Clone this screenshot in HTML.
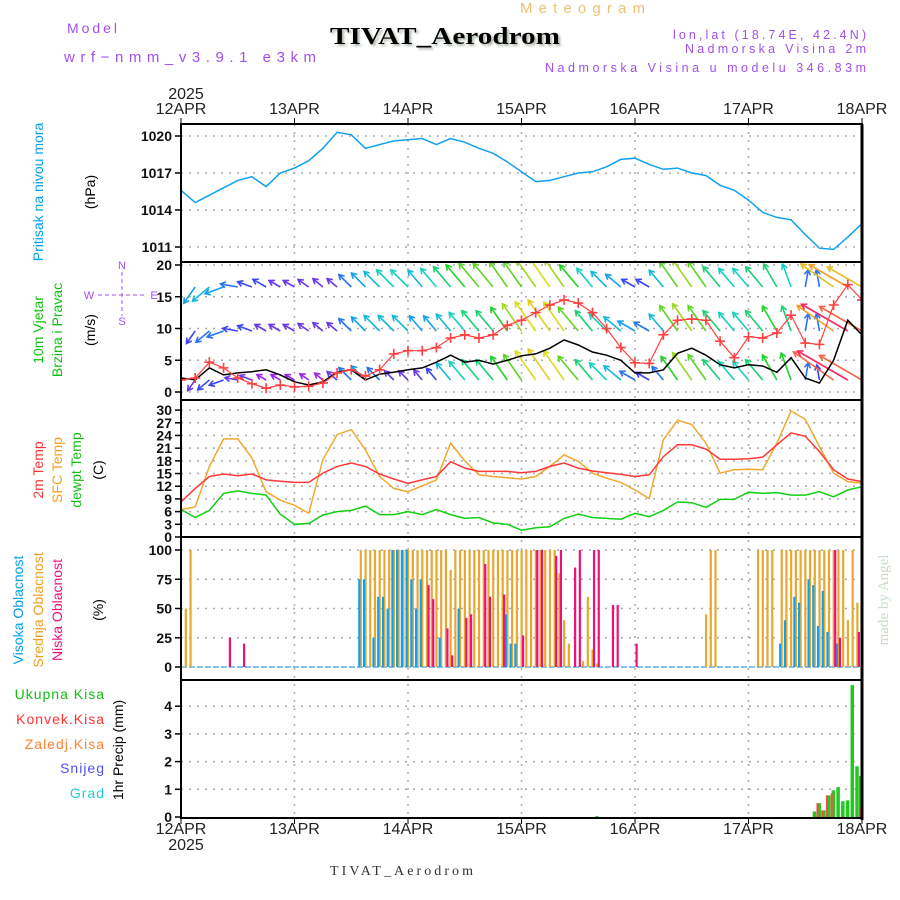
<!DOCTYPE html>
<html><head><meta charset="utf-8"><style>
body{margin:0;background:#fff;}
svg{display:block;font-family:"Liberation Sans",sans-serif;}
</style></head><body>
<svg id="chart" width="900" height="900" viewBox="0 0 900 900">
<defs>
<clipPath id="cw"><rect x="181" y="263" width="681" height="137"/></clipPath>
<filter id="sh"><feDropShadow dx="2" dy="2" stdDeviation="1" flood-color="#9a9" flood-opacity="0.8"/></filter>
</defs>
<text x="520" y="13" fill="#f0c070" font-size="15" textLength="125" lengthAdjust="spacing">Meteogram</text>
<text x="330" y="44" font-family="Liberation Serif,serif" font-weight="bold" font-size="24" textLength="230" lengthAdjust="spacingAndGlyphs" filter="url(#sh)">TIVAT_Aerodrom</text>
<text x="67" y="33" fill="#a050f0" font-size="14" textLength="50" lengthAdjust="spacing">Model</text>
<text x="64" y="62" fill="#a050f0" font-size="15" textLength="252" lengthAdjust="spacing">wrf−nmm_v3.9.1 e3km</text>
<text x="673" y="39" fill="#a050f0" font-size="12.5" textLength="193" lengthAdjust="spacing">lon,lat (18.74E, 42.4N)</text>
<text x="685" y="53" fill="#a050f0" font-size="12.5" textLength="181" lengthAdjust="spacing">Nadmorska Visina 2m</text>
<text x="545" y="72" fill="#a050f0" font-size="12.5" textLength="321" lengthAdjust="spacing">Nadmorska Visina u modelu 346.83m</text>
<text x="186" y="99" font-size="16" text-anchor="middle" fill="#222">2025</text>
<text x="186" y="850" font-size="16" text-anchor="middle" fill="#222">2025</text>
<text x="330" y="875" font-family="Liberation Serif,serif" font-size="14" textLength="143" lengthAdjust="spacing" fill="#333">TIVAT_Aerodrom</text>
<text transform="translate(888,600) rotate(-90)" font-family="Liberation Serif,serif" font-size="15" fill="#c8dcc8" text-anchor="middle">made by Angel</text>
<g font-size="14" text-anchor="middle">
<text transform="translate(43,192) rotate(-90)" fill="#00a0f0">Pritisak na nivou mora</text>
<text transform="translate(95,192) rotate(-90)">(hPa)</text>
<text transform="translate(43,330) rotate(-90)" fill="#10c010">10m Vjetar</text>
<text transform="translate(62,330) rotate(-90)" fill="#10c010">Brzina i Pravac</text>
<text transform="translate(95,330) rotate(-90)">(m/s)</text>
<text transform="translate(43,470) rotate(-90)" fill="#ff3030">2m Temp</text>
<text transform="translate(62,470) rotate(-90)" fill="#f0a020">SFC Temp</text>
<text transform="translate(81,470) rotate(-90)" fill="#10c010">dewpt Temp</text>
<text transform="translate(103,470) rotate(-90)">(C)</text>
<text transform="translate(23,610) rotate(-90)" fill="#00a0f0">Visoka Oblacnost</text>
<text transform="translate(43,610) rotate(-90)" fill="#f0a020">Srednja Oblacnost</text>
<text transform="translate(62,610) rotate(-90)" fill="#f0107a">Niska Oblacnost</text>
<text transform="translate(103,610) rotate(-90)">(%)</text>
<text transform="translate(123,750) rotate(-90)">1hr Precip (mm)</text>
</g>
<g font-size="14" text-anchor="end" letter-spacing="1">
<text x="105" y="699" fill="#10c010">Ukupna Kisa</text>
<text x="105" y="724" fill="#ff3030">Konvek.Kisa</text>
<text x="105" y="749" fill="#ff8030">Zaledj.Kisa</text>
<text x="105" y="773" fill="#5050f0">Snijeg</text>
<text x="105" y="798" fill="#20d0d0">Grad</text>
</g>
<g fill="#a050f0" stroke="#a050f0" font-size="11" text-anchor="middle">
<text x="122" y="269" stroke="none">N</text><text x="122" y="325" stroke="none">S</text>
<text x="89" y="299" stroke="none">W</text><text x="154" y="299" stroke="none">E</text>
<line x1="122" y1="272" x2="122" y2="316" stroke-dasharray="4,3"/>
<line x1="98" y1="295" x2="146" y2="295" stroke-dasharray="4,3"/>
</g>
<g id="g"></g>
</svg>
<script>
const days=['12APR','13APR','14APR','15APR','16APR','17APR','18APR'];
const pressTicks=[1020,1017,1014,1011];
const windTicks=[0,5,10,15,20];
const tempTicks=[0,3,6,9,12,15,18,21,24,27,30];
const cloudTicks=[0,25,50,75,100];
const precipTicks=[0,1,2,3,4];
// 3-hourly series (49 points, 12APR 00 .. 18APR 00)
const pressure=[1015.6,1014.6,1015.2,1015.8,1016.4,1016.7,1015.9,1017.0,1017.4,1018.0,1019.0,1020.3,1020.1,1019.0,1019.3,1019.6,1019.7,1019.8,1019.3,1019.8,1019.5,1019.0,1018.6,1017.9,1017.1,1016.3,1016.4,1016.7,1017.0,1017.1,1017.5,1018.1,1018.2,1017.7,1017.3,1017.4,1017.0,1016.8,1016.0,1015.6,1014.8,1013.8,1013.4,1013.2,1012.0,1010.9,1010.8,1011.8,1012.9];
const windSpeed=[2.2,1.9,3.8,2.7,3.0,3.2,3.5,2.7,1.6,1.1,1.6,3.1,3.5,1.9,2.8,3.1,3.5,3.8,4.7,5.8,4.7,5.0,4.4,5.0,5.7,6.0,6.9,8.2,7.4,6.3,5.8,5.0,3.0,3.0,3.5,6.1,6.9,5.8,4.3,3.8,4.3,4.1,3.1,5.4,2.2,1.4,5.0,11.3,9.0];
const windGust=[1.9,2.2,4.7,3.8,2.2,1.3,0.6,1.1,0.8,0.9,1.4,3.0,3.5,2.5,3.5,6.0,6.5,6.5,7.0,8.5,9.0,8.5,9.0,10.5,11.3,12.5,13.7,14.5,14.0,12.5,10.0,7.0,4.6,4.5,9.0,11.3,11.5,11.3,8.0,5.4,8.7,8.5,9.3,12.1,7.7,7.5,13.7,16.9,14.5];
const arrowSpdLow=[1.5,2,2.5,2.5,2,2,1.5,1.5,1.5,1.5,1.5,2,3,3.5,3,2,2,2,2.5,4,4.5,5,5,5.5,6,7,7.5,7,6,5,4.5,4,3,2.5,3,5.5,6.5,6,5,4.5,4.5,5,5.5,5.5,3,2.5,10,12,10];
const arrowSpdMid=[2,2.5,3,3,2.5,2.5,2,2,2,2,2,2,3,3.5,4,4,4,3.5,3.5,4,4.5,5,5,5.5,6.5,7,7.5,7,6,5,4.5,4,3.5,3,4,6,6.5,6,5,4.5,4.5,5,5.5,5,3,3,9,11,10];
const arrowSpdTop=[3,3.5,4,3.5,3,2.5,2.5,2,2,2,2,2,3,3.5,4,4.5,4.5,4,4.5,5,5.5,6,6,6,6,6.5,7,6.5,5.5,4.5,4,3.5,2.5,2.5,4,6,6.5,6,5,4.5,4.5,5,5,4.5,3,3,8,9,8];
const arrowDir=[200,215,230,250,280,290,300,300,300,305,310,310,315,315,315,315,315,320,320,320,320,320,320,325,325,325,325,325,320,320,315,310,300,300,320,325,325,325,320,320,320,320,330,340,10,350,305,300,300];
const temp2m=[8.3,11.5,14.3,14.9,14.5,14.9,13.5,13.2,12.9,12.9,15.1,16.7,17.5,16.7,14.9,13.7,12.7,13.5,14.3,17.8,16.3,15.5,15.5,15.5,15.2,15.5,16.7,17.5,16.3,15.6,15.2,14.8,14.3,14.7,19.0,21.8,21.8,20.8,18.4,18.4,18.5,18.9,21.8,24.6,23.8,20.2,15.9,13.7,13.1];
const tempSfc=[6.5,7.1,16.7,23.2,23.2,18.7,10.7,8.7,7.5,5.6,18.3,24.2,25.4,20.6,14.3,11.5,10.7,12.1,13.5,22.2,18.0,14.7,14.3,14.0,13.7,14.3,16.7,19.4,17.9,15.1,13.9,12.9,11.1,9.1,23.0,27.6,26.6,22.2,15.1,15.9,16.0,15.9,22.2,29.8,27.8,21.4,15.1,13.1,12.7];
const tempDew=[6.5,4.6,6.3,10.3,10.9,10.3,9.9,5.4,3.0,3.2,5.2,6.0,6.3,7.3,5.3,5.3,6.0,5.3,6.5,5.3,4.4,4.6,3.3,3.0,1.6,2.2,2.4,4.4,5.4,4.6,4.4,4.2,5.6,4.8,6.3,8.3,8.1,7.0,8.9,8.9,10.6,10.3,10.5,9.9,9.9,10.7,9.5,11.1,11.9];
// hourly cloud cover [hour, percent]
const cloudHigh=[[38,75],[39,75],[41,25],[42,60],[43,60],[44,50],[45,100],[46,100],[47,100],[48,100],[49,75],[50,50],[51,75],[55,25],[59,50],[69,45],[70,20],[71,20],[127,20],[128,40],[130,60],[131,55],[133,75],[134,70],[135,35],[136,65],[137,30],[139,20]];
const cloudMid=[[1,50],[2,100],[38,100],[39,100],[40,100],[41,100],[42,100],[43,100],[44,100],[45,100],[46,100],[47,100],[48,100],[49,100],[50,100],[51,100],[52,100],[53,100],[54,100],[55,100],[56,100],[57,83],[58,100],[59,100],[60,100],[61,100],[62,100],[63,100],[64,100],[65,100],[66,100],[67,100],[68,100],[69,100],[70,100],[71,100],[72,100],[73,100],[74,100],[75,100],[76,100],[77,100],[78,100],[79,100],[80,80],[81,40],[82,20],[85,5],[86,60],[87,15],[88,3],[111,45],[112,100],[113,100],[122,100],[123,100],[124,100],[125,100],[127,100],[128,100],[129,100],[130,100],[131,100],[132,100],[133,100],[134,100],[135,100],[136,100],[137,100],[138,100],[139,100],[140,100],[141,40],[142,100],[143,55]];
const cloudLow=[[10,25],[13,20],[52,70],[53,58],[56,33],[57,10],[60,42],[61,45],[64,88],[65,60],[68,62],[72,27],[75,100],[76,100],[79,95],[80,100],[83,85],[84,100],[87,100],[88,100],[91,53],[92,53],[96,20],[138,100],[139,25],[143,30]];
// hourly precip [hour, mm]
const precipTotal=[[88,0.03],[134,0.2],[135,0.5],[136,0.24],[137,0.78],[138,0.96],[139,1.08],[140,0.57],[141,0.6],[142,4.76],[143,1.83],[144,1.48]];
const precipConv=[[135,0.5],[136,0.24],[137,0.78],[138,0.85],[144,0.35]];

const NS='http://www.w3.org/2000/svg';
const G=document.getElementById('g');
function mk(tag,at,parent){const e=document.createElementNS(NS,tag);for(const k in at)e.setAttribute(k,at[k]);(parent||G).appendChild(e);return e;}
const X0=181,X1=862;
const xH=h=>X0+h*(X1-X0)/144;
const x3=i=>xH(i*3);
const yP=p=>136+(1020-p)*12.33;
const yW=v=>392-v*6.35;
const yT=t=>537-t*4.23;
const yC=c=>667-c*1.17;
const yR=m=>817-m*27.7;
const panels=[[124,262],[262,400],[400,537],[537,680],[680,818]];

function hgrid(vals,f,name){vals.forEach(v=>{const l=mk('line',{x1:X0,x2:X1,y1:f(v),y2:f(v),stroke:'#aaa','stroke-width':1.5,'stroke-dasharray':'2,6'});

});}
hgrid(pressTicks,yP,'pressure');hgrid(windTicks,yW,'wind');hgrid(tempTicks,yT,'temp');hgrid(cloudTicks,yC,'cloud');hgrid(precipTicks.slice(1),yR,'precip');
days.forEach((d,i)=>{const x=xH(i*24);
const l=mk('line',{x1:x,x2:x,y1:124,y2:818,stroke:'#aaa','stroke-width':1.5,'stroke-dasharray':'2,6'});


const t=mk('text',{x:x,y:114,'font-size':16,'text-anchor':'middle',fill:'#222'});t.textContent=d;


const b=mk('text',{x:x,y:834,'font-size':16,'text-anchor':'middle',fill:'#222'});b.textContent=d;


mk('line',{x1:x,x2:x,y1:118,y2:124,stroke:'#000'});mk('line',{x1:x,x2:x,y1:818,y2:824,stroke:'#000'});});
function yticks(vals,f,name){vals.forEach(v=>{const t=mk('text',{x:172,y:f(v)+5,'font-size':14,'text-anchor':'end','font-weight':'bold',fill:'#111'});t.textContent=v;


mk('line',{x1:175,x2:181,y1:f(v),y2:f(v),stroke:'#000','stroke-width':1.5});});}
yticks(pressTicks,yP,'pressure');yticks(windTicks,yW,'wind');yticks(tempTicks,yT,'temp');yticks(cloudTicks,yC,'cloud');yticks(precipTicks,yR,'precip');

function poly(arr,fx,fy,col,name,w){const pts=arr.map((v,i)=>fx(i).toFixed(1)+','+fy(v).toFixed(1)).join(' ');
const p=mk('polyline',{points:pts,fill:'none',stroke:col,'stroke-width':w||1.5});

return p;}
poly(pressure,x3,yP,'#10a0f0','pressure-line');

function spdColor(s){const stops=[[1.5,[150,40,230]],[2.5,[60,70,240]],[3.5,[20,160,240]],[4.5,[20,210,190]],[5.5,[30,210,40]],[7,[220,220,30]],[9,[240,160,40]],[11,[250,40,100]]];
if(s<=stops[0][0])return 'rgb('+stops[0][1]+')';for(let i=1;i<stops.length;i++){if(s<=stops[i][0]){const a=stops[i-1],b=stops[i],t=(s-a[0])/(b[0]-a[0]);return 'rgb('+a[1].map((c,k)=>Math.round(c+(b[1][k]-c)*t))+')';}}return 'rgb('+stops[stops.length-1][1]+')';}
const wg=mk('g',{'clip-path':'url(#cw)'});


function arrows(spd,base,name){spd.forEach((s,i)=>{const x=x3(i),a=arrowDir[i]*Math.PI/180,L=4+s*4.5;
const dx=Math.sin(a)*L,dy=-Math.cos(a)*L,x2=x+dx,y2=base+dy,c=spdColor(s);
const g=mk('g',{stroke:c,'stroke-width':1.6,fill:'none'},wg);


mk('line',{x1:x,y1:base,x2:x2,y2:y2},g);
const ux=dx/L,uy=dy/L,h=6;
mk('polyline',{points:`${x2-h*(ux*0.85-uy*0.5)},${y2-h*(uy*0.85+ux*0.5)} ${x2},${y2} ${x2-h*(ux*0.85+uy*0.5)},${y2-h*(uy*0.85-ux*0.5)}`},g);});}
arrows(arrowSpdLow,380,'wind-arrow-10m');arrows(arrowSpdMid,331,'wind-arrow-mid');arrows(arrowSpdTop,287,'wind-arrow-top');
poly(windSpeed,x3,yW,'#000','wind-speed-line').setAttribute('clip-path','url(#cw)');
poly(windGust,x3,yW,'#ff4040','wind-gust-line',1.2).setAttribute('clip-path','url(#cw)');
windGust.forEach((v,i)=>{const x=x3(i),y=yW(v);const p=mk('path',{d:`M${x-5},${y}h10M${x},${y-5}v10`,stroke:'#ff4040','stroke-width':1.6,'clip-path':'url(#cw)'});

});

poly(tempSfc,x3,yT,'#f0a830','sfc-temp-line');
poly(temp2m,x3,yT,'#ff3838','2m-temp-line');
poly(tempDew,x3,yT,'#10d010','dewpoint-line');

mk('line',{x1:X0,x2:X1,y1:yC(0),y2:yC(0),stroke:'#60b0f0','stroke-width':1.5,'stroke-dasharray':'6,2'});
function cbars(arr,col,off,name){arr.forEach(([h,v])=>{const r=mk('rect',{x:xH(h)+off,y:yC(v),width:2.2,height:yC(0)-yC(v),fill:col});

});}
cbars(cloudMid,'#e8a830',-1,'cloud-mid-bar');cbars(cloudHigh,'#10a0f0',-2.5,'cloud-high-bar');cbars(cloudLow,'#f0107a',0.5,'cloud-low-bar');

precipTotal.forEach(([h,v])=>{const x=Math.min(xH(h)-2,X1-3);const r=mk('rect',{x:x,y:yR(v),width:3.5,height:yR(0)-yR(v),fill:'#20c820'});

});
precipConv.forEach(([h,v])=>{const x=Math.min(xH(h)-3,X1-2);const r=mk('rect',{x:x,y:yR(v),width:2,height:yR(0)-yR(v),fill:'#ff4848'});

});

panels.forEach(([a,b],i)=>{const r=mk('rect',{x:X0,y:a,width:X1-X0,height:b-a,fill:'none',stroke:'#000','stroke-width':2});

});
mk('line',{x1:X1,x2:X1,y1:124,y2:820,stroke:'#000','stroke-width':3});
</script>
</body></html>
